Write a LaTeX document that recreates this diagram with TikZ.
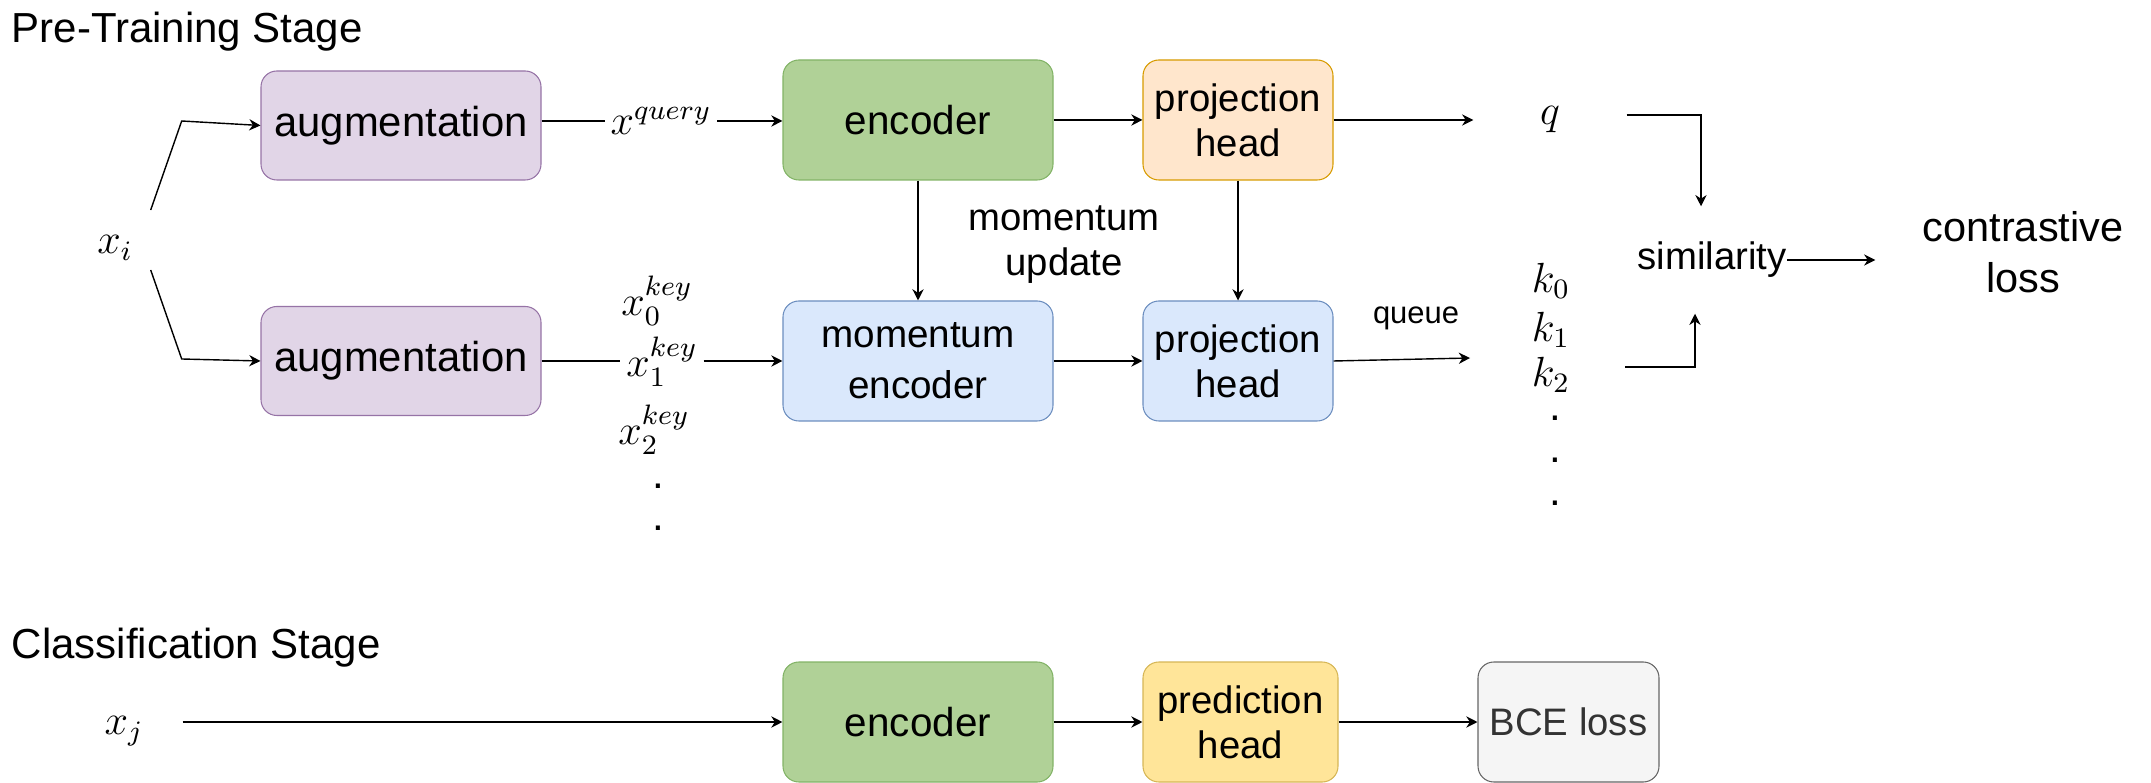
\documentclass[tikz,border=0pt]{standalone}
\usepackage{fontspec}
\setmainfont{Liberation Sans}
\usepackage{tikz}
\usetikzlibrary{arrows.meta,positioning}
\usepackage{xcolor}
\usepackage{amsmath}
\definecolor{augfill}{HTML}{E1D5E7}
\definecolor{augline}{HTML}{9673A6}
\definecolor{encfill}{HTML}{B0D197}
\definecolor{encline}{HTML}{82B366}
\definecolor{projfill}{HTML}{FFE6CC}
\definecolor{projline}{HTML}{D79B00}
\definecolor{keyfill}{HTML}{DAE8FC}
\definecolor{keyline}{HTML}{6C8EBF}
\definecolor{predfill}{HTML}{FFE599}
\definecolor{predline}{HTML}{D6B656}
\definecolor{lossfill}{HTML}{F5F5F5}
\definecolor{lossline}{HTML}{666666}
\definecolor{losstext}{HTML}{333333}
\tikzset{
    block/.style={rounded corners=4.5pt, line width=0.3pt, inner sep=0pt, align=center, font=\fontsize{10.9}{12.8}\selectfont},
    bigtext/.style={font=\fontsize{11.8}{14.5}\selectfont},
    plain/.style={inner sep=0pt, align=center, font=\fontsize{10.9}{12.8}\selectfont},
    titletext/.style={inner sep=0pt, font=\fontsize{11.95}{14}\selectfont},
    mathlbl/.style={inner sep=0pt, inner xsep=1.5pt, font=\fontsize{12}{14}\selectfont},
    link/.style={line width=0.4pt, -{Stealth[length=3.2pt,width=3.2pt]}}
}

\begin{document}
\begin{tikzpicture}
    \useasboundingbox (0,0) rectangle (21.51,-7.83);

    % Заголовки
    \node[titletext, anchor=base west] (pretitle) at (0.11,-0.43) {Pre-Training Stage};
    \node[titletext, anchor=base west] (clstitle) at (0.11,-6.58) {Classification Stage};

    % Блоки предобучения
    \node[block, font=\fontsize{11.9}{14}\selectfont, fill=augfill, draw=augline, minimum width=2.80cm, minimum height=1.09cm] (augq) at (4.01,-1.255) {augmentation};
    \node[block, font=\fontsize{11.9}{14}\selectfont, fill=augfill, draw=augline, minimum width=2.80cm, minimum height=1.09cm] (augk) at (4.01,-3.61) {augmentation};
    \node[block, font=\fontsize{11.5}{14}\selectfont, fill=encfill, draw=encline, minimum width=2.70cm, minimum height=1.20cm] (enc) at (9.18,-1.20) {encoder};
    \node[block, font=\fontsize{11.0}{14.5}\selectfont, fill=keyfill, draw=keyline, minimum width=2.70cm, minimum height=1.20cm] (menc) at (9.18,-3.61) {momentum\\encoder};
    \node[block, fill=projfill, draw=projline, minimum width=1.90cm, minimum height=1.20cm] (projq) at (12.38,-1.20) {projection\\head};
    \node[block, fill=keyfill, draw=keyline, minimum width=1.90cm, minimum height=1.20cm] (projk) at (12.38,-3.61) {projection\\head};

    % Подписи
    \node[mathlbl, minimum width=0.70cm] (xi) at (1.15,-2.48) {$x_i$};
    \node[mathlbl] (xq) at (6.61,-1.21) {$x^{query}$};
    \node[mathlbl] (x0k) at (6.57,-3.01) {$x_0^{key}$};
    \node[mathlbl] (x1k) at (6.62,-3.62) {$x_1^{key}$};
    \node[mathlbl] (x2k) at (6.54,-4.30) {$x_2^{key}$};
    \node[mathlbl] (xdot1) at (6.58,-4.86) {.};
    \node[mathlbl] (xdot2) at (6.58,-5.28) {.};
    \node[plain] (mupd) at (10.64,-2.445) {momentum\\update};
    \node[plain, font=\fontsize{8.8}{10.5}\selectfont] (queue) at (14.16,-3.18) {queue};
    \node[mathlbl, minimum width=1.52cm] (q) at (15.50,-1.20) {$q$};
    \node[mathlbl] (k0) at (15.51,-2.81) {$k_0$};
    \node[mathlbl] (k1) at (15.51,-3.30) {$k_1$};
    \node[mathlbl] (k2) at (15.51,-3.75) {$k_2$};
    \node[mathlbl] (kdot1) at (15.55,-4.18) {.};
    \node[mathlbl] (kdot2) at (15.55,-4.60) {.};
    \node[mathlbl] (kdot3) at (15.55,-5.03) {.};
    \coordinate (kin) at (14.70,-3.58);
    \coordinate (kout) at (16.25,-3.67);
    \node[plain, minimum height=1.06cm] (sim) at (17.12,-2.60) {similarity};
    \node[plain, bigtext, minimum width=2.94cm] (closs) at (20.23,-2.52) {contrastive\\loss};

    % Связи предобучения
    \draw[link] ([yshift=0.38cm]xi.east) -- ++(0.31,0.89) -- (augq.west);
    \draw[link] ([yshift=-0.22cm]xi.east) -- ++(0.31,-0.89) -- (augk.west);
    \draw (augq.east |- xq) -- (xq);
    \draw[link] (xq) -- (enc.west |- xq);
    \draw[link] (enc) -- (projq);
    \draw[link] (projq) -- (q);
    \draw (augk.east) -- (augk.east -| x1k.west);
    \draw[link] (x1k.east |- menc) -- (menc);
    \draw[link] (menc) -- (projk);
    \draw[link] (projk.east) -- (kin);
    \draw[link] (enc) -- (menc);
    \draw[link] (projq) -- (projk);
    \draw[link] ([yshift=0.05cm]q.east) -| ([xshift=-0.11cm]sim.north);
    \draw[link] (kout) -| ([xshift=-0.17cm]sim.south);
    \draw[link] (sim.east) -- (sim.east -| closs.west);

    % Классификация
    \node[mathlbl, minimum width=1.16cm] (xj) at (1.24,-7.31) {$x_j$};
    \node[block, font=\fontsize{11.5}{14}\selectfont, fill=encfill, draw=encline, minimum width=2.70cm, minimum height=1.20cm] (enc2) at (9.18,-7.22) {encoder};
    \node[block, fill=predfill, draw=predline, minimum width=1.95cm, minimum height=1.20cm] (pred) at (12.405,-7.22) {prediction\\head};
    \node[block, fill=lossfill, draw=lossline, text=losstext, minimum width=1.81cm, minimum height=1.20cm] (bce) at (15.685,-7.22) {BCE loss};
    \draw[link] (xj.east |- enc2) -- (enc2);
    \draw[link] (enc2) -- (pred);
    \draw[link] (pred) -- (bce);
\end{tikzpicture}
\end{document}
